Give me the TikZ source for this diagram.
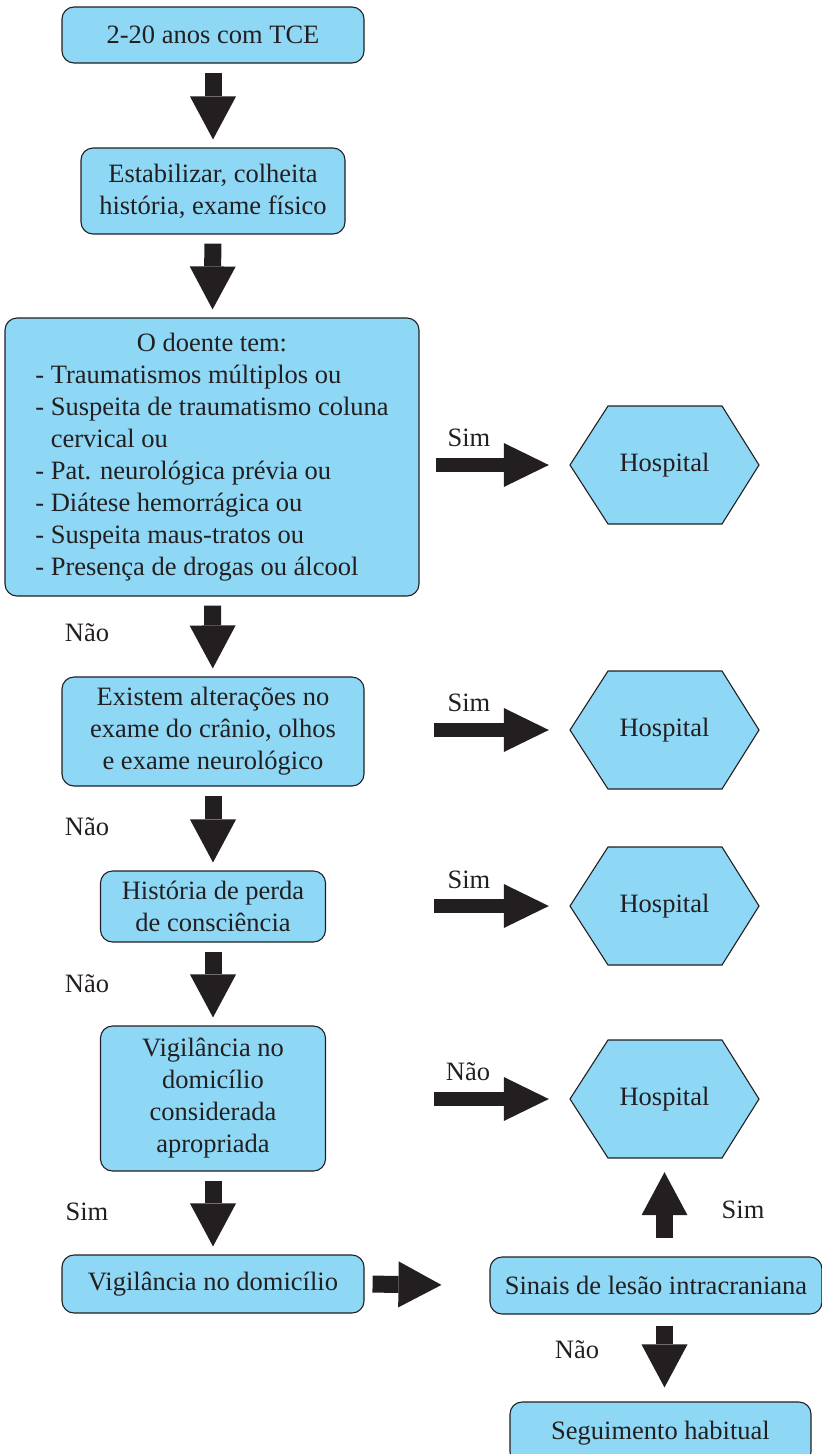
\documentclass[tikz,border=0pt]{standalone}
\usepackage{fontspec}
\setmainfont{Liberation Serif}
\usepackage{tikz}
\usetikzlibrary{arrows.meta}

\definecolor{boxblue}{RGB}{142,216,246}
\definecolor{inkblack}{RGB}{35,31,32}

\tikzset{
  flowbox/.style={draw=inkblack, line width=1.1pt, fill=boxblue, rounded corners=12pt,
    text=inkblack, font=\fontsize{26.5}{32}\selectfont, align=center, inner sep=0pt},
  hexbox/.style={draw=inkblack, line width=1.1pt, fill=boxblue},
  hexlabel/.style={text=inkblack, font=\fontsize{26.5}{32}\selectfont,
    minimum width=189pt, minimum height=118pt, inner sep=0pt},
  answer/.style={text=inkblack, font=\fontsize{26.5}{32}\selectfont, inner sep=0pt},
  downarrow/.style={color=inkblack, line width=17pt,
    -{Triangle[width=46pt,length=43pt,line width=0pt]}, shorten <=9pt, shorten >=8pt},
  sidearrow/.style={color=inkblack, line width=14pt,
    -{Triangle[width=44pt,length=45pt,line width=0pt]}, shorten >=21pt},
}

\begin{document}
\begin{tikzpicture}[x=1pt, y=-1pt]
  \useasboundingbox (0,0) rectangle (822,1454);

  % left column
  \node[flowbox, minimum width=302pt, minimum height=56pt] (idade) at (213,35) {2-20 anos com TCE};
  \node[flowbox, minimum width=264pt, minimum height=86pt] (estab) at (213,191) {Estabilizar, colheita\\hist\'oria, exame f\'isico};
  \node[flowbox, minimum width=414pt, minimum height=278pt] (doente) at (212,457) {%
    \begin{tabular}{@{}l@{ }l@{}}
      \multicolumn{2}{c}{O doente tem:}\\
      - & Traumatismos múltiplos ou\\
      - & Suspeita de traumatismo coluna\\
        & cervical ou\\
      - & Pat. neurológica prévia ou\\
      - & Diátese hemorrágica ou\\
      - & Suspeita maus-tratos ou\\
      - & Presença de drogas ou álcool
    \end{tabular}};
  \node[flowbox, minimum width=302pt, minimum height=109pt] (exame) at (213,731.5) {Existem alterações no\\exame do crânio, olhos\\e exame neurológico};
  \node[flowbox, minimum width=225pt, minimum height=71pt] (perda) at (213,906.5) {História de perda\\de consciência};
  \node[flowbox, minimum width=225pt, minimum height=145pt] (aprop) at (213,1098.5) {Vigilância no\\domicílio\\considerada\\apropriada};
  \node[flowbox, minimum width=302pt, minimum height=58pt] (casa) at (213,1284) {Vigilância no domicílio};

  % right column
  \foreach \name/\yy in {hospA/465, hospB/730, hospC/906, hospD/1099} {
    \draw[hexbox] (570,\yy) -- (608,\yy-59) -- (722,\yy-59) -- (759,\yy)
      -- (722,\yy+59) -- (608,\yy+59) -- cycle;
    \node[hexlabel] (\name) at (664.5,\yy) {Hospital};
  }
  \node[flowbox, minimum width=332pt, minimum height=57pt] (sinais) at (656,1285.5) {Sinais de lesão intracraniana};
  \node[flowbox, minimum width=301pt, minimum height=62pt] (segue) at (660.5,1433) {Seguimento habitual};

  % arrows down the left
  \draw[downarrow] (idade) -- (estab);
  \draw[downarrow] (estab) -- (doente);
  \draw[downarrow] (doente) -- (exame);
  \draw[downarrow] (exame) -- (perda);
  \draw[downarrow] (perda) -- (aprop);
  \draw[downarrow] (aprop) -- (casa);

  % arrows to the hospitals
  \draw[sidearrow, shorten <=16pt] (doente.east |- hospA) -- (hospA.west);
  \draw[sidearrow, shorten <=69pt] (exame.east |- hospB) -- (hospB.west);
  \draw[sidearrow, shorten <=108pt] (perda.east |- hospC) -- (hospC.west);
  \draw[sidearrow, shorten <=108pt] (aprop.east |- hospD) -- (hospD.west);

  % bottom part
  \draw[downarrow, shorten <=8pt, shorten >=48pt] (casa.east) -- (sinais.west);
  \draw[downarrow, shorten <=18pt, shorten >=14pt] (sinais.north -| hospD) -- (hospD.south);
  \draw[downarrow, shorten <=11pt, shorten >=14pt] (sinais.south -| hospD) -- (segue.north -| hospD);

  % answers
  \node[answer] (naoA) at (87,633) {Não};
  \node[answer] (naoB) at (87,827) {Não};
  \node[answer] (naoC) at (87,984) {Não};
  \node[answer] (simD) at (87,1212) {Sim};
  \node[answer] (simA) at (469,438) {Sim};
  \node[answer] (simB) at (469,703) {Sim};
  \node[answer] (simC) at (469,880) {Sim};
  \node[answer] (naoD) at (468,1072) {Não};
  \node[answer] (simE) at (743,1210) {Sim};
  \node[answer] (naoE) at (577,1350) {Não};
\end{tikzpicture}
\end{document}
